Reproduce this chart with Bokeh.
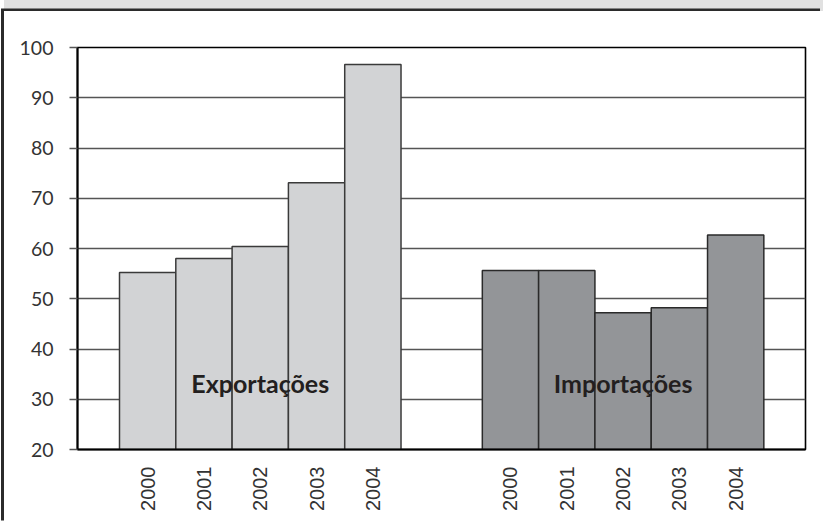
from bokeh.plotting import figure
from bokeh.models import Range1d, FixedTicker, ColumnDataSource
from bokeh.core.properties import value
from bokeh.embed import file_html
from bokeh.resources import INLINE

# ---- data ----
years = ["2000", "2001", "2002", "2003", "2004"]
exportacoes = [55.2, 58.0, 60.4, 73.1, 96.6]
importacoes = [55.6, 55.6, 47.2, 48.2, 62.7]
group_names = ["Exportações", "Importações"]
y_ticks = [20, 30, 40, 50, 60, 70, 80, 90, 100]

# ---- layout constants (bar width = 1 unit) ----
X_MAX = 12.93
EXP_START = 0.746
IMP_START = 7.19
LABEL_Y = 33.3

exp_x = [EXP_START + 0.5 + i for i in range(len(years))]
imp_x = [IMP_START + 0.5 + i for i in range(len(years))]

OX, OY = 4, 11          # canvas offset on the page
W, H = 819, 512
p = figure(width=W, height=H, output_backend="svg", toolbar_location=None,
           x_range=Range1d(0, X_MAX), y_range=Range1d(20, 100),
           min_border_left=77 - OX, min_border_right=(OX + W) - 805,
           min_border_top=47 - OY, min_border_bottom=(OY + H) - 449)
p.styles = {
    "margin-top": f"{OY}px",
    "margin-left": f"{OX}px",
    "box-shadow": "-3px -2.5px 0 0 #2b2b2b, 0 -11px 0 0 #e1e1e1",
}
p.background_fill_color = "white"
p.border_fill_color = "white"
p.outline_line_color = "black"
p.outline_line_width = 1.6

src_e = ColumnDataSource(dict(x=exp_x, top=exportacoes))
src_i = ColumnDataSource(dict(x=imp_x, top=importacoes))
p.vbar(x="x", top="top", bottom=20, width=1.0, source=src_e,
       fill_color="#d2d3d5", line_color="#3a3a3a", line_width=1.5)
p.vbar(x="x", top="top", bottom=20, width=1.0, source=src_i,
       fill_color="#939598", line_color="#2a2a2a", line_width=1.5)

gx = [sum(exp_x) / len(exp_x), sum(imp_x) / len(imp_x)]
p.text(x=gx, y=[LABEL_Y, LABEL_Y], text=group_names,
       text_font=value("Lato"), text_font_style="bold",
       text_font_size="25px", text_color="#231f20",
       text_align="center", text_baseline="alphabetic")

# y axis
ya = p.yaxis[0]
ya.ticker = FixedTicker(ticks=y_ticks)
ya.axis_line_color = "black"
ya.axis_line_width = 2
ya.major_tick_in = 0
ya.major_tick_out = 8
ya.major_tick_line_color = "#555555"
ya.major_tick_line_width = 1.5
ya.minor_tick_line_color = None
ya.major_label_text_font = "Lato"
ya.major_label_text_font_size = "19.5px"
ya.major_label_text_color = "#333333"
ya.major_label_standoff = 16

# x axis
xa = p.xaxis[0]
ticks = exp_x + imp_x
xa.ticker = FixedTicker(ticks=ticks)
xa.major_label_overrides = {t: y for t, y in zip(ticks, years + years)}
xa.major_label_orientation = 3.14159265 / 2
xa.axis_line_color = "black"
xa.axis_line_width = 2
xa.major_tick_line_color = None
xa.minor_tick_line_color = None
xa.major_label_text_font = "Liberation Sans"
xa.major_label_text_font_size = "20px"
xa.major_label_text_color = "#333333"
xa.major_label_standoff = 11

p.xgrid.grid_line_color = None
p.ygrid.ticker = FixedTicker(ticks=y_ticks)
p.ygrid.grid_line_color = "#555555"
p.ygrid.grid_line_width = 1.5

open("out.html", "w").write(file_html(p, INLINE))
